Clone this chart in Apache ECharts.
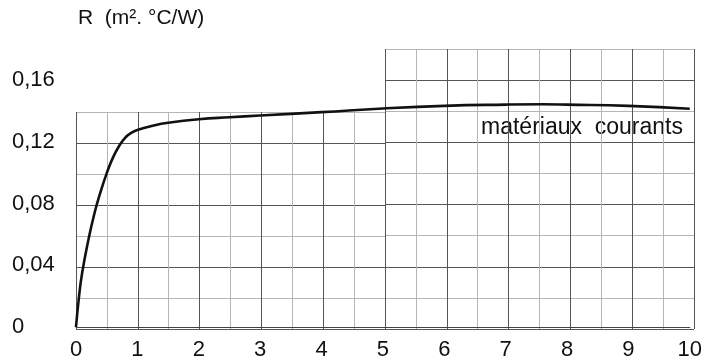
<!DOCTYPE html>
<html><head><meta charset="utf-8">
<script src="https://cdn.jsdelivr.net/npm/echarts@6/dist/echarts.min.js"></script>
<style>html,body{margin:0;padding:0;background:#fff}#c{width:705px;height:361px}</style>
</head><body><div id="c"></div>
<script>
var xValues = [0, 0.05, 0.1, 0.2, 0.3, 0.4, 0.5, 0.6, 0.7, 0.8, 0.9, 1, 1.25, 1.5, 2, 2.5, 3, 4, 5, 6, 7, 7.6, 8, 9, 10];
var rValues = [0, 0.02, 0.035, 0.056, 0.0735, 0.0875, 0.0995, 0.1095, 0.117, 0.1225, 0.1257, 0.1276, 0.1303, 0.1322, 0.1345, 0.1358, 0.1369, 0.1391, 0.1415, 0.1432, 0.1440, 0.1442, 0.1440, 0.1432, 0.1413];
var xTicks = [0,1,2,3,4,5,6,7,8,9,10];
var yTicks = [0, 0.04, 0.08, 0.12, 0.16];
var axisTitle = 'R  (m². °C/W)';
var curveLabel = 'matériaux  courants';

var FONT = '"Liberation Sans", Arial, sans-serif';
var DARK = '#555555', LIGHT = '#b5b5b5';
var data = xValues.map(function (x, i) { return [x, rValues[i]]; });

function gridAxisX(idx, min, max) {
  return { type: 'value', gridIndex: idx, min: min, max: max, interval: 0.5,
    axisLine: { show: false }, axisTick: { show: false }, axisLabel: { show: false },
    splitLine: { show: true, showMinLine: true, showMaxLine: true, lineStyle: { color: [DARK, LIGHT], width: 1 } } };
}
function gridAxisY(idx, max) {
  return { type: 'value', gridIndex: idx, min: 0, max: max, interval: 0.02,
    axisLine: { show: false }, axisTick: { show: false }, axisLabel: { show: false },
    splitLine: { show: true, showMinLine: true, showMaxLine: true, lineStyle: { color: [DARK, LIGHT], width: 1 } } };
}

var chart = echarts.init(document.getElementById('c'), null, { renderer: 'canvas' });
chart.setOption({
  animation: false,
  backgroundColor: '#fff',
  grid: [
    { left: 76, top: 112, width: 309, height: 217 },
    { left: 385, top: 49, width: 309, height: 280 },
    { left: 76, top: 49, width: 618, height: 280 }
  ],
  xAxis: [
    gridAxisX(0, 0, 5),
    gridAxisX(1, 5, 10),
    { type: 'value', gridIndex: 2, min: 0, max: 10, interval: 1,
      axisLine: { show: true, lineStyle: { color: '#444', width: 1.2 } }, axisTick: { show: false },
      splitLine: { show: false },
      axisLabel: { show: true, margin: 12, fontSize: 22, color: '#111', fontFamily: FONT,
        formatter: function (v) { return xTicks.indexOf(v) >= 0 ? String(v) : ''; } } }
  ],
  yAxis: [
    gridAxisY(0, 0.14),
    gridAxisY(1, 0.18),
    { type: 'value', gridIndex: 2, min: 0, max: 0.18, interval: 0.04,
      axisLine: { show: false }, axisTick: { show: false }, splitLine: { show: false },
      name: axisTitle, nameLocation: 'end', nameGap: 20,
      nameTextStyle: { fontSize: 21, color: '#111', fontFamily: FONT, align: 'left', padding: [0, 0, 0, 2] },
      axisLabel: { show: true, margin: 64, align: 'left', fontSize: 22, color: '#111', fontFamily: FONT,
        padding: [0, 0, 16, 0],
        formatter: function (v) {
          var r = Math.round(v * 100) / 100;
          if (yTicks.indexOf(r) < 0) return '';
          return r === 0 ? '0' : r.toFixed(2).replace('.', ',');
        } } }
  ],
  series: [{
    type: 'line', xAxisIndex: 2, yAxisIndex: 2, data: data,
    smooth: 0.5, showSymbol: false, symbol: 'none',
    lineStyle: { color: '#111', width: 2.6 },
    z: 5
  }],
  graphic: [{
    type: 'text', right: 22, top: 116,
    style: { text: curveLabel, fontSize: 23, fontFamily: FONT, fill: '#111' }
  }]
});
</script></body></html>
